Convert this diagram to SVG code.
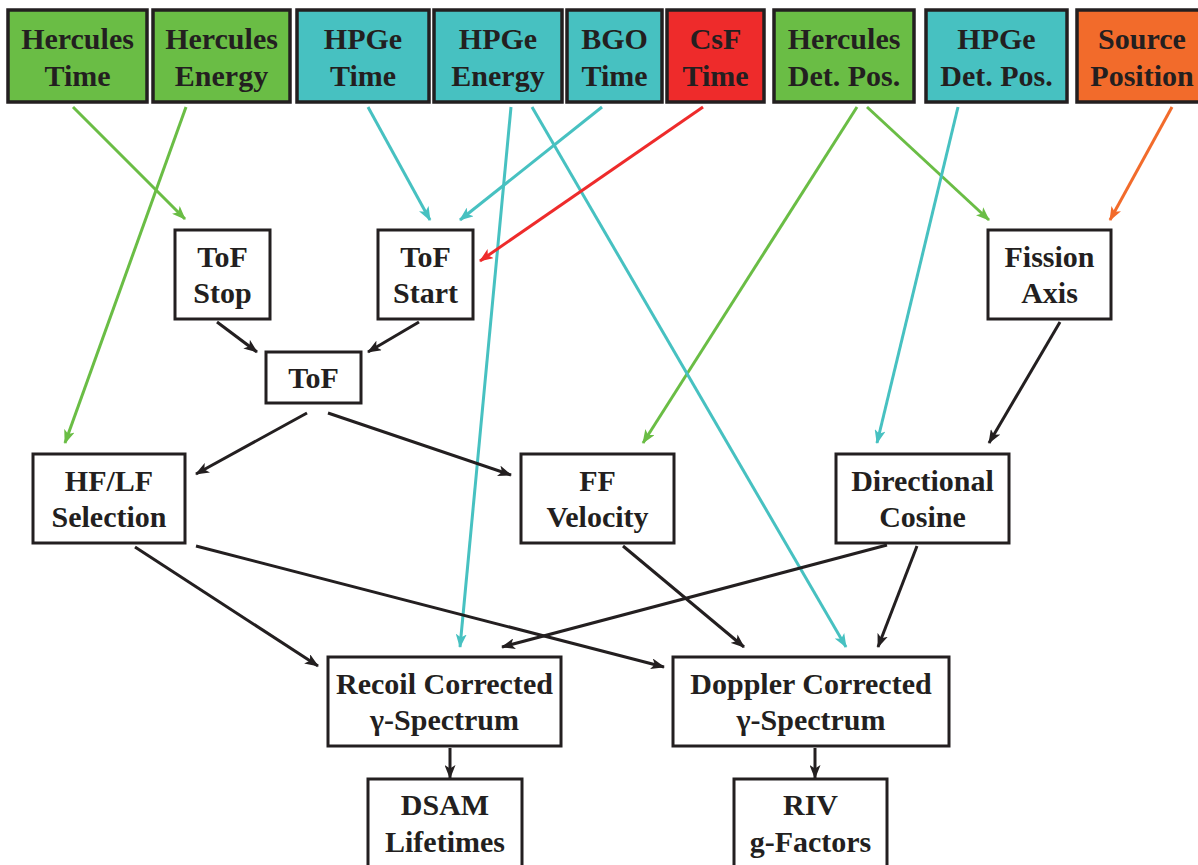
<svg xmlns="http://www.w3.org/2000/svg" width="1198" height="865" viewBox="0 0 1198 865">
<style>
  .top { stroke:#231F20; stroke-width:3.5; }
  .box { fill:#FFFFFF; stroke:#231F20; stroke-width:3; }
  .g { fill:#6ABD45; } .t { fill:#47C1C1; } .r { fill:#EE2B2B; } .o { fill:#F26B2B; }
  text { font-family:"Liberation Serif","Times New Roman",serif; font-weight:bold; font-size:30px; fill:#231F20; text-anchor:middle; }
  .c line { stroke-width:3; fill:none; }
  .cg { stroke:#6ABD45; } .ct { stroke:#47C1C1; } .cr { stroke:#EE2B2B; } .co { stroke:#F26B2B; } .ck { stroke:#231F20; }
</style>
<defs>
  <marker id="ag" viewBox="0 0 14 11" refX="13" refY="5.5" markerWidth="14" markerHeight="11" markerUnits="userSpaceOnUse" orient="auto"><path d="M0,0 L14,5.5 L0,11 L3.5,5.5 z" fill="#6ABD45"/></marker>
  <marker id="at" viewBox="0 0 14 11" refX="13" refY="5.5" markerWidth="14" markerHeight="11" markerUnits="userSpaceOnUse" orient="auto"><path d="M0,0 L14,5.5 L0,11 L3.5,5.5 z" fill="#47C1C1"/></marker>
  <marker id="ar" viewBox="0 0 14 11" refX="13" refY="5.5" markerWidth="14" markerHeight="11" markerUnits="userSpaceOnUse" orient="auto"><path d="M0,0 L14,5.5 L0,11 L3.5,5.5 z" fill="#EE2B2B"/></marker>
  <marker id="ao" viewBox="0 0 14 11" refX="13" refY="5.5" markerWidth="14" markerHeight="11" markerUnits="userSpaceOnUse" orient="auto"><path d="M0,0 L14,5.5 L0,11 L3.5,5.5 z" fill="#F26B2B"/></marker>
  <marker id="ak" viewBox="0 0 14 11" refX="13" refY="5.5" markerWidth="14" markerHeight="11" markerUnits="userSpaceOnUse" orient="auto"><path d="M0,0 L14,5.5 L0,11 L3.5,5.5 z" fill="#231F20"/></marker>
</defs>
<rect width="1198" height="865" fill="#FFFFFF"/>

<g id="connectors" class="c">
  <line class="cg" x1="73" y1="107" x2="185" y2="219" marker-end="url(#ag)"/>
  <line class="cg" x1="186" y1="107" x2="65" y2="443" marker-end="url(#ag)"/>
  <line class="cg" x1="857" y1="107" x2="643" y2="443" marker-end="url(#ag)"/>
  <line class="cg" x1="867" y1="107" x2="989" y2="220" marker-end="url(#ag)"/>
  <line class="ct" x1="368" y1="107" x2="430" y2="220" marker-end="url(#at)"/>
  <line class="ct" x1="602" y1="107" x2="460" y2="220" marker-end="url(#at)"/>
  <line class="ct" x1="511" y1="107" x2="460" y2="647" marker-end="url(#at)"/>
  <line class="ct" x1="532" y1="107" x2="846" y2="647" marker-end="url(#at)"/>
  <line class="ct" x1="958" y1="107" x2="877" y2="443" marker-end="url(#at)"/>
  <line class="cr" x1="703" y1="107" x2="480" y2="261" marker-end="url(#ar)"/>
  <line class="co" x1="1172" y1="107" x2="1110" y2="220" marker-end="url(#ao)"/>
  <line class="ck" x1="217" y1="322" x2="257" y2="352" marker-end="url(#ak)"/>
  <line class="ck" x1="419" y1="322" x2="368" y2="352" marker-end="url(#ak)"/>
  <line class="ck" x1="307" y1="413" x2="196" y2="474" marker-end="url(#ak)"/>
  <line class="ck" x1="328" y1="413" x2="511" y2="475" marker-end="url(#ak)"/>
  <line class="ck" x1="1060" y1="322" x2="989" y2="443" marker-end="url(#ak)"/>
  <line class="ck" x1="135" y1="547" x2="318" y2="666" marker-end="url(#ak)"/>
  <line class="ck" x1="196" y1="546" x2="664" y2="667" marker-end="url(#ak)"/>
  <line class="ck" x1="623" y1="546" x2="744" y2="647" marker-end="url(#ak)"/>
  <line class="ck" x1="887" y1="545" x2="502" y2="647" marker-end="url(#ak)"/>
  <line class="ck" x1="917" y1="546" x2="878" y2="647" marker-end="url(#ak)"/>
  <line class="ck" x1="450" y1="748" x2="450" y2="778" marker-end="url(#ak)"/>
  <line class="ck" x1="815" y1="748" x2="815" y2="778" marker-end="url(#ak)"/>
</g>

<g id="hercules-time"><rect class="top g" x="8" y="10" width="139" height="92"/><text x="77.5" y="49">Hercules</text><text x="77.5" y="86">Time</text></g>
<g id="hercules-energy"><rect class="top g" x="153" y="10" width="137" height="92"/><text x="221.5" y="49">Hercules</text><text x="221.5" y="86">Energy</text></g>
<g id="hpge-time"><rect class="top t" x="297" y="10" width="132" height="92"/><text x="363" y="49">HPGe</text><text x="363" y="86">Time</text></g>
<g id="hpge-energy"><rect class="top t" x="434" y="10" width="128" height="92"/><text x="498" y="49">HPGe</text><text x="498" y="86">Energy</text></g>
<g id="bgo-time"><rect class="top t" x="567" y="10" width="95" height="92"/><text x="614.5" y="49">BGO</text><text x="614.5" y="86">Time</text></g>
<g id="csf-time"><rect class="top r" x="667" y="10" width="97" height="92"/><text x="715.5" y="49">CsF</text><text x="715.5" y="86">Time</text></g>
<g id="hercules-det-pos"><rect class="top g" x="774" y="10" width="140" height="92"/><text x="844" y="49">Hercules</text><text x="844" y="86">Det. Pos.</text></g>
<g id="hpge-det-pos"><rect class="top t" x="926" y="10" width="141" height="92"/><text x="996.5" y="49">HPGe</text><text x="996.5" y="86">Det. Pos.</text></g>
<g id="source-position"><rect class="top o" x="1077" y="10" width="130" height="92"/><text x="1142" y="49">Source</text><text x="1142" y="86">Position</text></g>

<g id="tof-stop"><rect class="box" x="175" y="230" width="95" height="89"/><text x="222.5" y="267">ToF</text><text x="222.5" y="303">Stop</text></g>
<g id="tof-start"><rect class="box" x="378" y="230" width="95" height="89"/><text x="425.5" y="267">ToF</text><text x="425.5" y="303">Start</text></g>
<g id="tof"><rect class="box" x="266" y="352" width="95" height="51"/><text x="313.5" y="388">ToF</text></g>
<g id="fission-axis"><rect class="box" x="988" y="230" width="123" height="89"/><text x="1049.5" y="267">Fission</text><text x="1049.5" y="303">Axis</text></g>
<g id="hf-lf-selection"><rect class="box" x="33" y="454" width="152" height="89"/><text x="109" y="491">HF/LF</text><text x="109" y="527">Selection</text></g>
<g id="ff-velocity"><rect class="box" x="521" y="454" width="153" height="89"/><text x="597.5" y="491">FF</text><text x="597.5" y="527">Velocity</text></g>
<g id="directional-cosine"><rect class="box" x="836" y="454" width="173" height="89"/><text x="922.5" y="491">Directional</text><text x="922.5" y="527">Cosine</text></g>
<g id="recoil-corrected"><rect class="box" x="328" y="657" width="233" height="89"/><text x="444.5" y="694">Recoil Corrected</text><text x="444.5" y="730">γ-Spectrum</text></g>
<g id="doppler-corrected"><rect class="box" x="673" y="657" width="276" height="89"/><text x="811" y="694">Doppler Corrected</text><text x="811" y="730">γ-Spectrum</text></g>
<g id="dsam-lifetimes"><rect class="box" x="368" y="779" width="154" height="100"/><text x="445" y="815">DSAM</text><text x="445" y="852">Lifetimes</text></g>
<g id="riv-g-factors"><rect class="box" x="734" y="779" width="153" height="100"/><text x="810.5" y="815">RIV</text><text x="810.5" y="852">g-Factors</text></g>
</svg>
